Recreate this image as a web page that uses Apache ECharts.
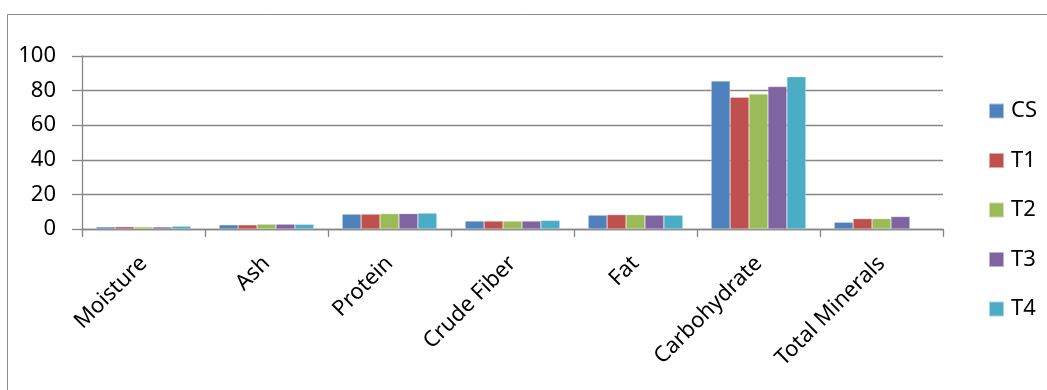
<!DOCTYPE html>
<html>
<head>
<meta charset="utf-8">
<script src="https://cdn.jsdelivr.net/npm/echarts@6/dist/echarts.min.js"></script>
<style>
  html, body { margin: 0; padding: 0; background: #fff; }
  #chart { width: 1047px; height: 390px; }
</style>
</head>
<body>
<div id="chart"></div>
<script>
// Proximate composition per treatment
const categories = ['Moisture', 'Ash', 'Protein', 'Crude Fiber', 'Fat', 'Carbohydrate', 'Total Minerals'];
const seriesNames = ['CS', 'T1', 'T2', 'T3', 'T4'];
const valuesCS = [1.2, 2.4, 8.6, 4.6, 8.0, 85.5, 3.9];
const valuesT1 = [1.3, 2.4, 8.6, 4.6, 8.3, 76.2, 6.0];
const valuesT2 = [1.2, 2.8, 8.9, 4.6, 8.3, 78.1, 6.0];
const valuesT3 = [1.2, 2.8, 8.9, 4.6, 8.0, 82.3, 7.2];
const valuesT4 = [1.6, 2.7, 9.2, 5.0, 8.0, 88.0, null];
const yTicks = [0, 20, 40, 60, 80, 100];

const palette = ['#4F81BD', '#C0504D', '#9BBB59', '#8064A2', '#4BACC6'];
const allValues = [valuesCS, valuesT1, valuesT2, valuesT3, valuesT4];
const font = '"Noto Sans", "Open Sans", sans-serif';
const gridColor = '#868686';

const chart = echarts.init(document.getElementById('chart'), null, { renderer: 'canvas' });

chart.setOption({
  animation: false,
  color: palette,
  textStyle: { fontFamily: font },
  graphic: [{
    type: 'rect',
    shape: { x: 7.5, y: 14.5, width: 1200, height: 600 },
    style: { fill: 'none', stroke: '#8c8c8c', lineWidth: 1 },
    silent: true,
    z: -1
  }],
  grid: { left: 82, right: 104, top: 56, bottom: 161, containLabel: false },
  legend: {
    orient: 'vertical',
    left: 988,
    top: 100,
    padding: 0,
    itemWidth: 15,
    itemHeight: 15,
    itemGap: 27.5,
    icon: 'rect',
    textStyle: { fontFamily: font, fontSize: 22, color: '#000', lineHeight: 21, padding: [0, 0, 0, 2] },
    data: seriesNames
  },
  xAxis: {
    type: 'category',
    data: categories,
    axisLine: { lineStyle: { color: gridColor, width: 1.3 } },
    axisTick: { show: true, length: 8, lineStyle: { color: gridColor, width: 1.3 } },
    axisLabel: {
      rotate: 45,
      margin: 31,
      fontSize: 22,
      color: '#000',
      fontFamily: font,
      interval: 0
    }
  },
  yAxis: {
    type: 'value',
    min: yTicks[0],
    max: yTicks[yTicks.length - 1],
    interval: 20,
    axisLine: { show: true, lineStyle: { color: gridColor, width: 1.3 } },
    axisTick: { show: true, inside: false, length: 10, lineStyle: { color: gridColor, width: 1.3 } },
    splitLine: { show: true, lineStyle: { color: gridColor, width: 1.3 } },
    axisLabel: { fontSize: 22, color: '#000', fontFamily: font, margin: 26 }
  },
  series: seriesNames.map((name, i) => ({
    name: name,
    type: 'bar',
    data: allValues[i],
    barGap: '0%',
    barCategoryGap: '23%',
    itemStyle: { color: palette[i], borderColor: 'rgba(255,255,255,0.5)', borderWidth: 0.5 }
  }))
});
</script>
</body>
</html>
